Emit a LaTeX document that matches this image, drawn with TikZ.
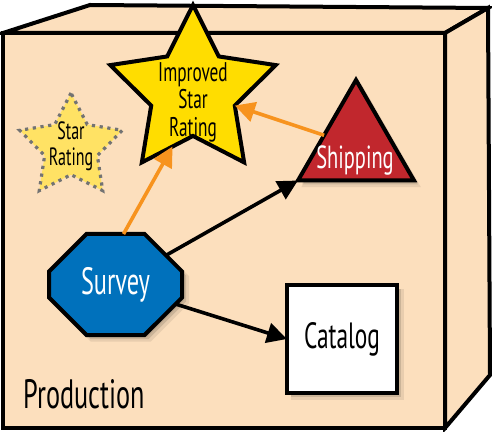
\documentclass[tikz,border=0pt]{standalone}
\usepackage{fontspec}
\setmainfont[FakeStretch=0.64]{PT Sans}
\usepackage{tikz}
\usetikzlibrary{positioning,shapes,shapes.geometric,shapes.misc,arrows.meta,shadows,calc}
\definecolor{DEFINE_BOX_COLOR}{HTML}{FCDFBD}
\definecolor{DEFINE_STAR_COLOR}{HTML}{FFDD00}
\definecolor{DEFINE_OLD_COLOR}{HTML}{FFE264}
\definecolor{DEFINE_SHIP_COLOR}{HTML}{C1272D}
\definecolor{DEFINE_SUR_COLOR}{HTML}{0071BC}
\definecolor{DEFINE_ORANGE}{HTML}{F7931E}
\tikzstyle{edge_line} = [draw=black, line width=4pt, line join=miter]
\tikzstyle{shadowed} = [drop shadow={shadow xshift=5pt, shadow yshift=-5pt, fill=black, opacity=0.08, shadow scale=1.03},
                        drop shadow={shadow xshift=4pt, shadow yshift=-4pt, fill=black, opacity=0.12},
                        drop shadow={shadow xshift=3pt, shadow yshift=-3pt, fill=black, opacity=0.12, shadow scale=0.98}]
\tikzstyle{BOX_FACE} = [edge_line, fill=DEFINE_BOX_COLOR]
\tikzstyle{FRONT_LAYER} = [BOX_FACE, rectangle, minimum width=442pt, minimum height=395pt, inner sep=0pt, outer sep=0pt]
\tikzstyle{IMP_STAR} = [edge_line, star, star points=5, star point ratio=1.98, minimum size=174pt, inner sep=0pt, outer sep=0pt, fill=DEFINE_STAR_COLOR]
\tikzstyle{OLD_STAR} = [star, star points=5, star point ratio=1.95, minimum size=108pt, inner sep=0pt, outer sep=0pt, fill=DEFINE_OLD_COLOR, draw=black!55, line width=3.2pt, dash pattern=on 3.2pt off 4.6pt]
\tikzstyle{SHIP_TRI} = [edge_line, shadowed, regular polygon, regular polygon sides=3, minimum size=134pt, inner sep=0pt, outer sep=0pt, fill=DEFINE_SHIP_COLOR]
\tikzstyle{SUR_OCT} = [edge_line, shadowed, chamfered rectangle, chamfered rectangle xsep=20pt, chamfered rectangle ysep=20pt, minimum width=133pt, minimum height=101pt, inner sep=0pt, outer sep=0pt, fill=DEFINE_SUR_COLOR, text=white, font=\fontsize{38}{38}\selectfont]
\tikzstyle{CAT_BOX} = [edge_line, shadowed, rectangle, minimum width=110pt, minimum height=108pt, inner sep=0pt, outer sep=0pt, fill=white, font=\fontsize{36.5}{36.5}\selectfont]
\tikzstyle{flow} = [-{Triangle[length=20pt,width=20pt]}, line width=3.6pt, draw=black]
\tikzstyle{upgrade} = [flow, draw=DEFINE_ORANGE, -{Triangle[length=20pt,width=20pt,fill=DEFINE_ORANGE]}]

\begin{document}
\begin{tikzpicture}[x=1pt, y=1pt]
      \useasboundingbox (0,0) rectangle (492,431);

      %%%%%%%%%%%%%%%%%%%%%%%%%%%%%%%%%%%%%%%%%%%%%%%%%
      % BOX
      %%%%%%%%%%%%%%%%%%%%%%%%%%%%%%%%%%%%%%%%%%%%%%%%%
      \node[FRONT_LAYER] (BOX) at (224,200.5) {};
      \draw[BOX_FACE] (BOX.north west) -- ++(87,28) -- (488,423) -- (BOX.north east) -- cycle;
      \draw[BOX_FACE] (BOX.north east) -- (488,423) -- (490,56) -- (BOX.south east) -- cycle;
      \node[font=\fontsize{41}{41}\selectfont, anchor=west] (PROD) at (20,37) {Production};

      %%%%%%%%%%%%%%%%%%%%%%%%%%%%%%%%%%%%%%%%%%%%%%%%%
      % SERVICES
      %%%%%%%%%%%%%%%%%%%%%%%%%%%%%%%%%%%%%%%%%%%%%%%%%
      \node[OLD_STAR] (STAR) at (71,284) {};
      \node[align=center, font=\fontsize{25}{26}\selectfont] (STARL) at (71,285) {Star\\Rating};
      \node[IMP_STAR] (IMP) at (193,339) {};
      \node[align=center, font=\fontsize{27}{27.5}\selectfont] (IMPL) at (193,329) {Improved\\Star\\Rating};
      \node[SHIP_TRI] (SHIP) at (356,284) {};
      \node[text=white, font=\fontsize{32}{32}\selectfont] (SHIPL) at (355,270) {Shipping};
      \node[SUR_OCT] (SUR) at (115.5,146.5) {Survey};
      \node[CAT_BOX] (CAT) at (342,92) {Catalog};

      %%%%%%%%%%%%%%%%%%%%%%%%%%%%%%%%%%%%%%%%%%%%%%%%%
      % ARROWS
      %%%%%%%%%%%%%%%%%%%%%%%%%%%%%%%%%%%%%%%%%%%%%%%%%
      \draw[upgrade] ([xshift=8pt]SUR.north) -- ($(IMP.inner point 3)!0.4!(IMP.outer point 3)$);
      \draw[upgrade] ($(SHIP.corner 1)!0.55!(SHIP.corner 2)$) -- (IMP.inner point 4);
      \draw[flow] (SUR.30) -- (SHIP.corner 2);
      \draw[flow] (SUR.-18) -- (CAT.west);

\end{tikzpicture}
\end{document}
